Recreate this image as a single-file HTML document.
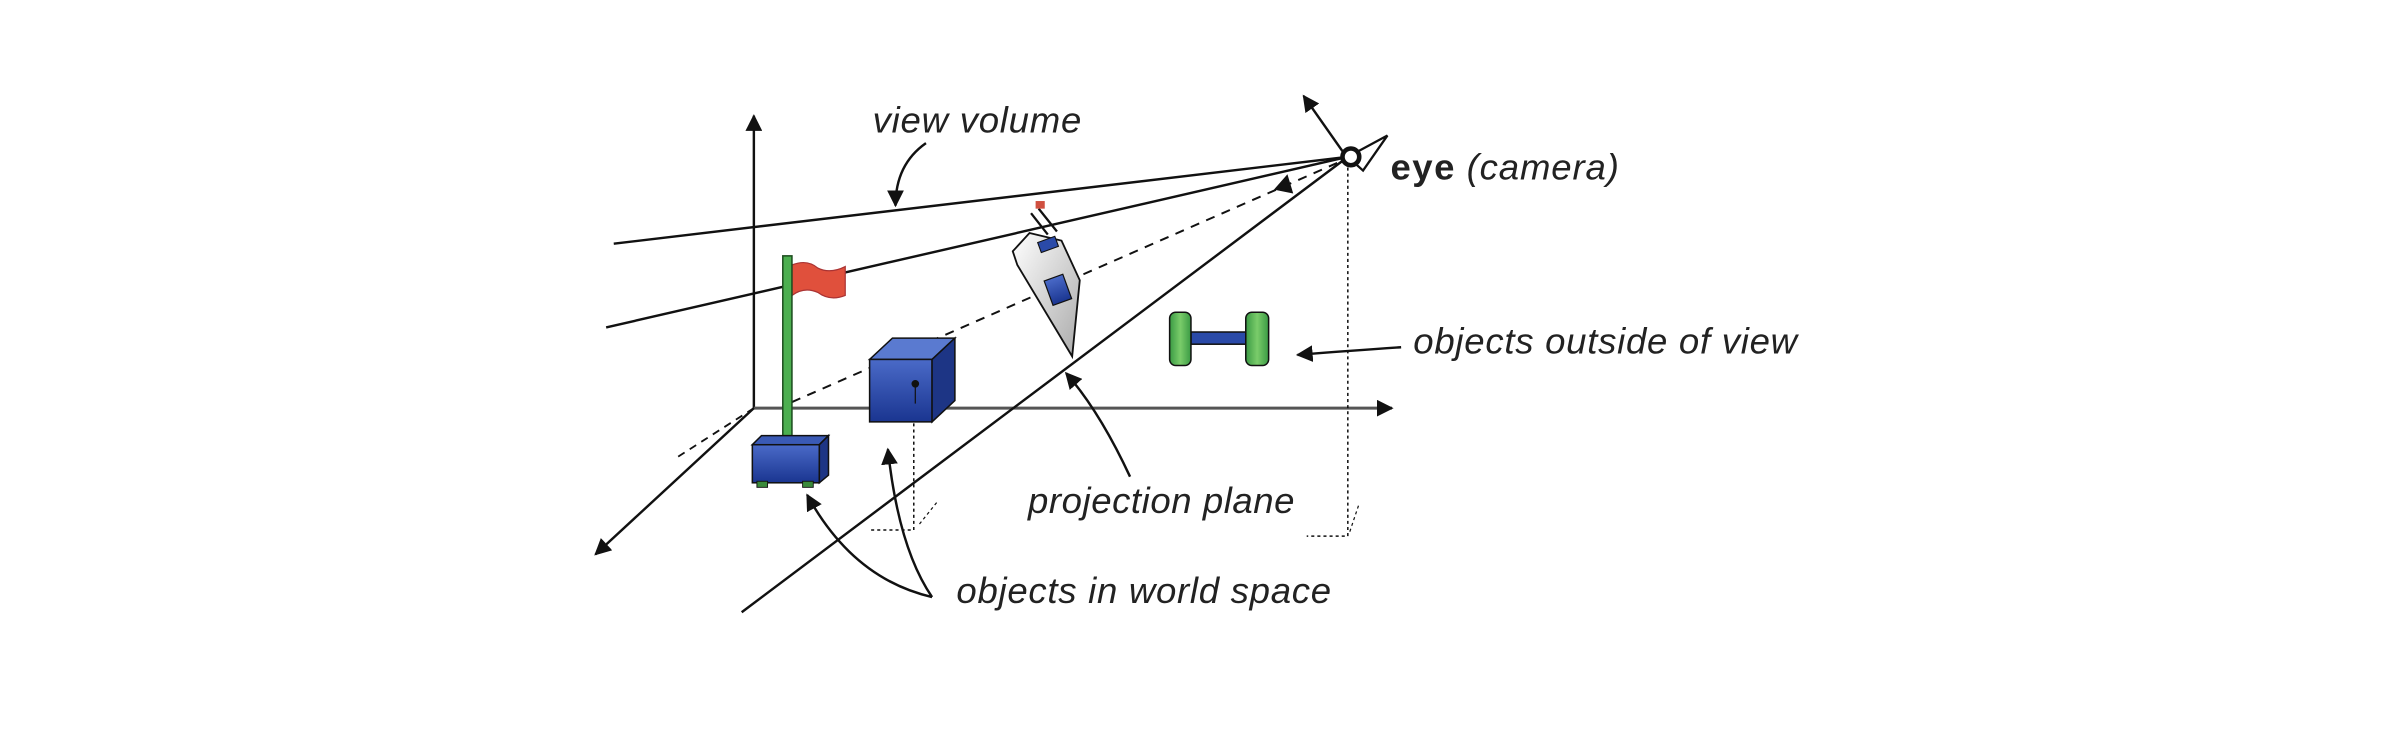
<!DOCTYPE html>
<html><head><meta charset="utf-8"><style>
html,body{margin:0;padding:0;background:#fff;width:2388px;height:742px;overflow:hidden}
svg{display:block}
text{font-family:"Liberation Sans",sans-serif;fill:#222}
</style></head><body>
<svg width="2388" height="742" viewBox="0 0 1568 487.2" preserveAspectRatio="none" xmlns="http://www.w3.org/2000/svg">
<defs>
<marker id="a" viewBox="0 0 10 10" refX="9" refY="5" markerWidth="11" markerHeight="11" orient="auto-start-reverse" markerUnits="userSpaceOnUse"><path d="M0,0L10,5L0,10z" fill="#111"/></marker>
<linearGradient id="pg" x1="0" y1="0" x2="1" y2="1"><stop offset="0" stop-color="#fff"/><stop offset="1" stop-color="#aaa"/></linearGradient>
<linearGradient id="bl" x1="0" y1="0" x2="0" y2="1"><stop offset="0" stop-color="#4a6ac8"/><stop offset="1" stop-color="#1a3590"/></linearGradient>
<linearGradient id="gr" x1="0" y1="0" x2="1" y2="0"><stop offset="0" stop-color="#3a9a44"/><stop offset="0.5" stop-color="#7acc6a"/><stop offset="1" stop-color="#3a9a44"/></linearGradient>
</defs>
<g stroke="#111" fill="none" stroke-width="1.6">
<line x1="495" y1="268" x2="495" y2="76" marker-end="url(#a)"/>
<line x1="495" y1="268" x2="914" y2="268" stroke="#555" stroke-width="2" marker-end="url(#a)"/>
<line x1="495" y1="268" x2="391" y2="364" marker-end="url(#a)"/>
<line x1="495" y1="268" x2="445" y2="300" stroke-dasharray="5,4" stroke-width="1.2"/>
<line x1="403" y1="160" x2="885" y2="103"/>
<line x1="398" y1="215" x2="885" y2="103"/>
<line x1="487" y1="402" x2="885" y2="103"/>
<line x1="520" y1="264" x2="878" y2="107" stroke-dasharray="6,5" stroke-width="1.3"/>
<path d="M838,124 L845,116 L848,126z" fill="#111"/>
<path d="M885,110 V352 H858" stroke-dasharray="2,2" stroke-width="1"/>
<path d="M600,278 V348 H572" stroke-dasharray="2,2" stroke-width="1"/>
<path d="M892,332 L886,350 M615,330 L603,345" stroke-width="0.8" stroke-dasharray="2,2"/>
<line x1="882" y1="100" x2="856" y2="63" marker-end="url(#a)"/>
<path d="M608,94 Q588,108 588,135" marker-end="url(#a)"/>
<path d="M742,313 Q722,270 700,245" marker-end="url(#a)"/>
<path d="M920,228 Q890,230 852,233" marker-end="url(#a)"/>
<path d="M612,392 Q560,380 530,325" marker-end="url(#a)"/>
<path d="M612,392 Q590,360 583,295" marker-end="url(#a)"/>
</g>
<path d="M885,103 L911,89 L895,112z" fill="#fff" stroke="#111" stroke-width="1.5"/>
<circle cx="887" cy="103" r="5.5" fill="#fff" stroke="#111" stroke-width="3"/>
<path d="M520,174 Q530,170 537,176 Q545,180 555,175 L555,194 Q545,198 537,192 Q528,188 520,194z" fill="#e0503c" stroke="#a33" stroke-width="0.8"/>
<rect x="514" y="168" width="6" height="124" fill="#4caf50" stroke="#1d4d1f" stroke-width="1"/>
<path d="M494,292 L500,286 L544,286 L538,292z" fill="#3a5ab5" stroke="#111" stroke-width="1"/>
<rect x="494" y="292" width="44" height="25" fill="url(#bl)" stroke="#111" stroke-width="1"/>
<path d="M538,292 L544,286 L544,312 L538,317z" fill="#1d3585" stroke="#111" stroke-width="1"/>
<rect x="497" y="316" width="7" height="4" fill="#3a8a3a" stroke="#111" stroke-width="0.6"/>
<rect x="527" y="316" width="7" height="4" fill="#3a8a3a" stroke="#111" stroke-width="0.6"/>
<path d="M571,236 L586,222 L627,222 L612,236z" fill="#5a7ad0" stroke="#111" stroke-width="1"/>
<rect x="571" y="236" width="41" height="41" fill="url(#bl)" stroke="#111" stroke-width="1"/>
<path d="M612,236 L627,222 L627,263 L612,277z" fill="#1d3585" stroke="#111" stroke-width="1"/>
<circle cx="601" cy="252" r="2.5" fill="#111"/><line x1="601" y1="252" x2="601" y2="265" stroke="#111" stroke-width="0.8"/>
<path d="M665,165 L676,153 L697,158 L709,184 L704,234 L668,174z" fill="url(#pg)" stroke="#111" stroke-width="1.2"/>
<path d="M677,140 L688,154 M682,137 L694,152" stroke="#111" stroke-width="1.5"/>
<rect x="680" y="132" width="6" height="5" fill="#d05040"/>
<rect x="682" y="157" width="12" height="7" fill="#2a4aa8" stroke="#111" stroke-width="0.7" transform="rotate(-20 688 160)"/>
<rect x="688" y="182" width="13" height="17" fill="url(#bl)" stroke="#111" stroke-width="0.8" transform="rotate(-20 694 190)"/>
<rect x="782" y="218" width="36" height="8" fill="#2a4aa8" stroke="#111" stroke-width="1"/>
<rect x="768" y="205" width="14" height="35" rx="4" fill="url(#gr)" stroke="#111" stroke-width="1"/>
<rect x="818" y="205" width="15" height="35" rx="4" fill="url(#gr)" stroke="#111" stroke-width="1"/>
<text x="573" y="87" font-size="24" font-style="italic" textLength="137" lengthAdjust="spacing">view volume</text>
<text x="913" y="118" font-size="24" font-weight="bold" fill="#111" textLength="42" lengthAdjust="spacing">eye</text>
<text x="963" y="118" font-size="24" font-style="italic" textLength="100" lengthAdjust="spacing">(camera)</text>
<text x="928" y="232" font-size="24" font-style="italic" textLength="252" lengthAdjust="spacing">objects outside of view</text>
<text x="675" y="337" font-size="24" font-style="italic" textLength="175" lengthAdjust="spacing">projection plane</text>
<text x="628" y="396" font-size="24" font-style="italic" textLength="246" lengthAdjust="spacing">objects in world space</text>
</svg>
</body></html>
